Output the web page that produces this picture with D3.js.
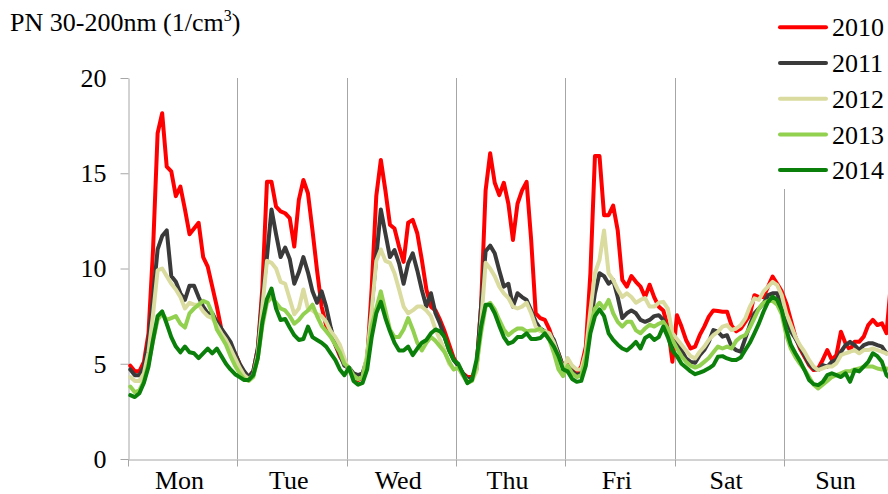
<!DOCTYPE html>
<html><head><meta charset="utf-8">
<script src="https://cdn.jsdelivr.net/npm/d3@7"></script>
<style>
body{margin:0;background:#fff}
svg{display:block;background:#fff}
text{font-family:"Liberation Serif","Times New Roman",serif;fill:#000}
</style>
</head><body>
<svg id="c" width="888" height="494"></svg>
<script>
// ---------------- data ----------------
const days = ["Mon","Tue","Wed","Thu","Fri","Sat","Sun"];
const years = ["2010","2011","2012","2013","2014"];
const yTicks = [0,5,10,15,20];
const yMax = 20;
const hoursPerDay = 24;

// hourly values, Mon 00h ... Sun 23h
const pn2010 = [
 4.9,4.6,4.6,5.1,6.6,11.0,17.1,18.15,15.35,15.1,13.8,14.3,13.1,11.8,12.1,12.4,10.6,10.1,9.05,8.0,6.8,6.25,5.9,5.55,
 5.0,4.5,4.3,4.6,5.8,9.0,14.55,14.55,13.25,13.0,12.9,12.65,11.15,13.6,14.65,13.95,12.0,9.9,8.0,7.0,6.5,6.0,5.4,5.0,
 4.7,4.3,4.15,4.3,5.2,9.0,13.8,15.7,14.1,12.3,12.1,11.15,10.35,12.4,12.55,11.85,10.45,8.9,8.0,7.8,7.3,6.7,6.0,5.3,
 4.9,4.5,4.3,4.3,4.8,8.0,14.1,16.05,14.5,13.85,14.5,13.4,11.5,13.4,14.1,14.55,11.5,7.65,7.4,7.3,6.8,6.1,5.55,4.85,
 5.0,4.7,4.5,4.85,5.9,9.75,15.9,15.9,12.8,12.8,13.3,12.0,9.4,9.05,9.6,9.3,9.05,8.5,9.15,8.5,8.0,7.8,6.95,5.1,
 7.55,6.95,6.25,5.8,5.9,6.5,6.95,7.47,7.8,7.77,7.73,7.73,7.0,6.7,6.85,7.2,7.55,8.6,8.5,8.5,9.05,9.57,9.2,8.8,
 8.17,7.3,6.42,5.8,5.37,4.93,4.67,4.75,5.2,5.72,5.2,5.45,6.68,6.07,5.72,6.15,6.15,6.42,7.03,7.3,7.03,7.12,6.6,9.3
];
const pn2011 = [
 4.7,4.4,4.4,4.85,6.2,8.5,11.0,11.7,12.0,9.6,9.3,8.7,8.35,9.1,9.1,8.5,8.0,7.65,7.65,7.2,6.85,6.5,6.15,5.55,
 5.0,4.6,4.3,4.6,5.8,8.5,10.6,13.1,11.8,10.6,11.1,10.5,9.2,9.8,10.6,9.8,8.8,8.2,8.8,8.0,6.9,6.0,5.5,4.9,
 4.8,4.5,4.4,4.5,5.3,8.0,10.6,13.1,11.85,10.6,10.97,10.27,9.2,10.27,10.8,9.9,8.87,8.0,8.7,7.65,7.1,6.4,5.7,5.2,
 4.9,4.5,4.2,4.2,4.7,8.0,10.9,11.2,10.8,9.9,9.05,9.2,8.0,8.7,8.5,8.35,7.8,7.2,6.85,6.7,6.6,6.25,5.55,4.85,
 4.9,4.6,4.4,4.5,5.3,7.1,8.7,9.75,9.6,9.2,9.4,8.5,7.4,7.65,7.8,7.65,7.3,7.2,7.3,7.5,7.55,7.3,6.8,5.9,
 6.2,5.72,5.28,5.1,5.05,5.45,5.72,6.15,6.77,6.68,6.42,6.5,5.9,5.72,5.63,6.33,7.03,7.65,7.9,8.17,8.6,8.7,8.7,8.0,
 7.3,6.7,6.33,5.9,5.45,5.0,4.75,4.67,4.93,4.85,5.1,5.2,5.63,5.98,6.15,5.98,5.72,5.98,6.07,6.07,5.98,5.9,5.55,5.6
];
const pn2012 = [
 4.3,4.1,4.1,4.5,5.6,7.6,9.9,10.0,9.6,9.2,8.9,8.5,7.9,8.2,8.1,8.1,7.75,7.5,7.4,7.0,6.6,6.25,5.8,5.3,
 4.8,4.4,4.2,4.4,5.5,8.0,10.4,10.3,10.0,9.3,9.2,8.4,7.6,7.9,8.9,7.9,7.8,7.6,7.5,7.2,6.7,6.4,6.0,5.3,
 4.6,4.3,4.2,4.3,5.5,7.8,10.4,11.0,10.4,10.3,9.75,8.9,8.0,7.65,7.8,8.0,8.0,7.8,7.5,6.8,6.25,5.7,5.0,4.7,
 4.8,4.4,4.1,4.1,4.6,7.1,10.3,10.0,9.6,9.05,8.7,8.45,8.0,7.9,8.0,8.2,7.65,6.95,6.7,6.7,6.6,6.1,5.4,4.7,
 5.3,4.9,4.7,4.7,5.6,7.8,9.75,10.45,12.0,9.75,9.4,8.9,8.5,8.7,8.5,8.2,8.35,8.45,8.0,8.0,8.2,8.25,7.9,6.6,
 6.3,6.0,5.7,5.4,5.28,5.63,5.9,6.25,6.5,6.68,6.95,7.03,6.77,6.85,7.03,7.38,8.0,8.43,8.35,8.8,9.05,9.3,9.13,8.6,
 7.65,7.03,6.42,5.98,5.63,5.2,4.85,4.67,4.76,4.85,4.85,5.02,5.45,5.55,5.63,5.72,5.55,5.72,5.72,5.8,5.72,5.63,5.55,5.5
];
const pn2013 = [
 3.8,3.5,3.6,4.1,5.0,6.2,7.3,7.65,7.3,7.4,7.5,7.1,6.9,7.65,7.9,8.1,8.3,8.2,7.65,6.8,6.4,6.0,5.4,4.9,
 4.5,4.2,4.1,4.3,5.3,7.0,8.2,8.5,8.2,7.9,7.8,7.5,7.1,7.3,7.6,7.8,8.1,7.5,7.0,6.7,6.4,6.0,5.6,5.0,
 4.8,4.4,4.2,4.3,5.3,7.0,7.9,8.8,7.8,6.8,6.4,6.4,6.8,7.4,6.8,6.1,5.7,6.1,6.4,6.2,5.9,5.6,5.1,4.7,
 4.8,4.4,4.0,4.1,4.9,6.6,8.0,8.2,7.85,7.3,6.8,6.5,6.7,6.85,6.85,6.7,6.75,6.75,6.85,6.6,6.25,5.55,4.7,4.35,
 4.9,4.5,4.3,4.4,5.3,6.95,7.9,8.2,7.9,8.35,7.65,7.2,6.95,7.2,7.2,6.75,6.6,6.85,7.05,6.95,7.1,7.2,6.85,6.25,
 5.8,5.4,5.1,4.9,4.8,4.9,5.1,5.3,5.6,5.9,5.8,5.9,5.8,6.2,6.4,6.5,6.9,7.4,7.9,8.2,8.3,8.3,8.1,7.6,
 6.5,5.8,5.35,5.0,4.7,4.3,3.9,3.7,3.9,4.1,4.3,4.4,4.5,4.6,4.6,4.7,4.75,4.85,4.85,4.85,4.75,4.7,4.75,4.7
];
const pn2014 = [
 3.35,3.25,3.45,4.0,4.85,6.25,7.5,7.75,7.1,6.4,5.9,5.6,5.9,5.6,5.55,5.3,5.55,5.8,5.55,5.8,5.4,5.0,4.7,4.45,
 4.3,4.15,4.15,4.4,5.3,7.2,8.4,8.95,7.9,7.3,7.35,6.9,6.5,6.25,6.3,6.95,6.4,6.25,6.1,5.9,5.55,5.2,4.7,4.4,
 4.8,4.1,3.9,4.0,4.7,6.4,7.65,8.25,7.4,6.7,6.1,5.7,5.7,5.9,5.45,5.8,6.1,6.25,6.6,6.8,6.7,6.4,5.7,5.2,
 5.0,4.5,3.98,4.15,5.2,6.95,8.1,8.1,7.65,7.0,6.4,6.05,6.15,6.4,6.4,6.6,6.3,6.3,6.35,6.6,6.25,5.9,5.4,4.7,
 4.6,4.2,4.05,4.1,4.9,6.6,7.5,7.85,7.5,6.6,6.25,6.0,5.8,5.7,5.9,6.15,5.8,6.35,6.5,6.25,6.4,6.95,6.4,5.7,
 5.4,5.0,4.8,4.6,4.45,4.53,4.63,4.76,4.93,5.37,5.4,5.28,5.2,5.2,5.33,5.72,6.1,6.6,7.12,7.73,8.25,8.52,8.35,7.82,
 6.8,6.0,5.55,5.15,4.67,4.15,3.93,3.88,4.05,4.4,4.5,4.4,4.3,4.5,4.05,4.67,4.6,4.85,5.1,5.55,5.4,5.1,4.4,4.2
];
const seriesValues = [pn2010, pn2011, pn2012, pn2013, pn2014];
const colors = ["#ff0000","#3a3a3a","#dadb9e","#92d050","#0a800a"];

// ---------------- layout ----------------
const W = 888, H = 494;
const plotLeft = 128, plotTop = 78, plotBottom = 459;
const dayW = 109.333;
const axisColor = "#a6a6a6";
const fs = 26;

const svg = d3.select("#c");
const nPts = days.length * hoursPerDay;

const x = d3.scaleBand().domain(d3.range(nPts)).range([plotLeft, plotLeft + dayW * days.length]);
const xc = i => x(i) + x.bandwidth() / 2;
const xEdge = d3.scaleLinear().domain([0, nPts]).range([plotLeft, plotLeft + dayW * days.length]);
const y = d3.scaleLinear().domain([0, yMax]).range([plotBottom, plotTop]);

// day separators
const bounds = d3.range(1, days.length).map(d => d * hoursPerDay);
svg.append("g").selectAll("line").data(bounds).join("line")
  .attr("x1", d => Math.round(xEdge(d)) + 0.5).attr("x2", d => Math.round(xEdge(d)) + 0.5)
  .attr("y1", plotTop).attr("y2", plotBottom)
  .attr("stroke", axisColor).attr("stroke-width", 1);

// y axis
const gy = svg.append("g").attr("transform", `translate(${plotLeft + 0.5},0)`)
  .call(d3.axisLeft(y).tickValues(yTicks).tickSize(8).tickSizeOuter(0).tickPadding(14));
gy.select(".domain").attr("stroke", axisColor);
gy.selectAll(".tick line").attr("stroke", axisColor);
gy.selectAll(".tick text").attr("font-size", fs).attr("font-family", '"Liberation Serif",serif').attr("fill", "#000");

// x axis
const gx = svg.append("g").attr("transform", `translate(0,${plotBottom + 0.5})`)
  .call(d3.axisBottom(xEdge).tickValues(d3.range(0, nPts + 1, hoursPerDay)).tickSize(7).tickSizeOuter(0).tickFormat(""));
gx.select(".domain").attr("stroke", axisColor);
gx.selectAll(".tick line").attr("stroke", axisColor);
gx.selectAll(".tick").attr("transform", d => `translate(${Math.round(xEdge(d)) + 0.5},0)`);

// day labels
svg.append("g").selectAll("text").data(days).join("text")
  .attr("x", (d, i) => xEdge(i * hoursPerDay + 11.3))
  .attr("y", 489)
  .attr("text-anchor", "middle")
  .attr("font-size", fs)
  .text(d => d);

// legend background (covers the separator)
svg.append("rect").attr("x", 770).attr("y", 0).attr("width", W - 770).attr("height", 189).attr("fill", "#fff");

// series
const line = d3.line().x((d, i) => xc(i)).y(d => y(d));
svg.append("g").selectAll("path").data(seriesValues).join("path")
  .attr("d", d => line(d))
  .attr("fill", "none")
  .attr("stroke", (d, i) => colors[i])
  .attr("stroke-width", 4)
  .attr("stroke-linejoin", "round")
  .attr("stroke-linecap", "round");

// legend
const lg = svg.append("g");
years.forEach((yr, i) => {
  const cy = 27.3 + i * 35.7;
  lg.append("line").attr("x1", 780).attr("x2", 826).attr("y1", cy).attr("y2", cy)
    .attr("stroke", colors[i]).attr("stroke-width", 4).attr("stroke-linecap", "round");
  lg.append("text").attr("x", 832).attr("y", cy).attr("dy", "0.35em").attr("font-size", fs).text(yr);
});

// title
const t = svg.append("text").attr("x", 10).attr("y", 31).attr("font-size", fs);
t.append("tspan").text("PN 30-200nm (1/cm");
t.append("tspan").attr("font-size", 16).attr("dy", -10).text("3");
t.append("tspan").attr("dy", 10).text(")");
</script>
</body></html>
